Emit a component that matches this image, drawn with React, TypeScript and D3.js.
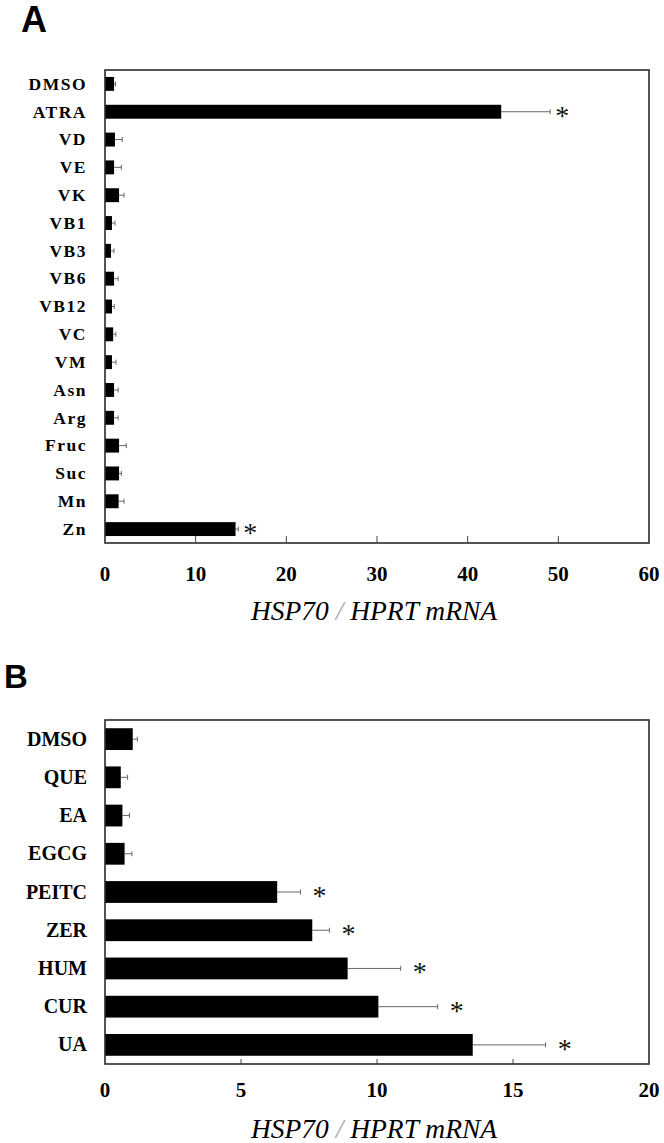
import React from "react";
import * as d3 from "d3";

// panel A: vitamins, amino acids, sugars, metals
const catsA = ["DMSO", "ATRA", "VD", "VE", "VK", "VB1", "VB3", "VB6", "VB12", "VC", "VM", "Asn", "Arg", "Fruc", "Suc", "Mn", "Zn"];
const valsA = [1.0, 43.7, 1.1, 1.0, 1.55, 0.77, 0.66, 1.0, 0.77, 0.9, 0.77, 1.0, 1.0, 1.55, 1.55, 1.5, 14.4];
const errsA = [0.15, 5.4, 0.8, 0.8, 0.55, 0.33, 0.33, 0.45, 0.25, 0.3, 0.45, 0.45, 0.45, 0.8, 0.25, 0.6, 0.3];
const sigA = ["ATRA", "Zn"];
const ticksA = [0, 10, 20, 30, 40, 50, 60];

// panel B: phytochemicals
const catsB = ["DMSO", "QUE", "EA", "EGCG", "PEITC", "ZER", "HUM", "CUR", "UA"];
const valsB = [1.02, 0.58, 0.64, 0.72, 6.33, 7.62, 8.92, 10.05, 13.52];
const errsB = [0.17, 0.25, 0.26, 0.27, 0.86, 0.63, 1.95, 2.18, 2.68];
const sigB = ["PEITC", "ZER", "HUM", "CUR", "UA"];
const ticksB = [0, 5, 10, 15, 20];

const serif = "'Liberation Serif', 'Times New Roman', serif";
const sans = "'Liberation Sans', Arial, sans-serif";

function Panel(props) {
  const { cats, vals, errs, sig, ticks, top, bottom, left, right, pad, labelSize, spacing, starGap, titleY, tickY, tickLen } = props;

  const x = d3.scaleLinear().domain([0, ticks[ticks.length - 1]]).range([left, right]);
  const y = d3.scaleBand().domain(cats).range([top, bottom]).paddingInner(pad).paddingOuter(pad / 2);
  const bw = y.bandwidth();

  const bars = cats.map((c, i) => {
    const cy = y(c) + bw / 2;
    const xe = x(vals[i] + errs[i]);
    return (
      <g key={c}>
        <text x={87} y={cy + 0.33 * labelSize} textAnchor="end" fontFamily={serif} fontWeight="bold"
          fontSize={labelSize} letterSpacing={spacing}>{c}</text>
        <line x1={x(vals[i])} x2={xe} y1={cy} y2={cy} stroke="#666" strokeWidth={1} />
        <line x1={xe} x2={xe} y1={cy - 2.5} y2={cy + 2.5} stroke="#666" strokeWidth={1} />
        <rect x={x(0)} y={y(c)} width={x(vals[i]) - x(0)} height={bw} fill="#000" />
        {sig.includes(c) &&
          <text x={xe + starGap} y={cy + 13} textAnchor="middle" fontFamily={serif} fontSize={28} fill="#111">*</text>}
      </g>
    );
  });

  const tickMarks = ticks.map(t => (
    <g key={t}>
      {t > 0 && t < ticks[ticks.length - 1] &&
        <line x1={x(t)} x2={x(t)} y1={bottom} y2={bottom - tickLen} stroke="#444" strokeWidth={1} />}
      <text x={x(t)} y={tickY} textAnchor="middle" fontFamily={serif} fontWeight="bold" fontSize={21}>{t}</text>
    </g>
  ));

  return (
    <g>
      {bars}
      <rect x={left} y={top} width={right - left} height={bottom - top} fill="none" stroke="#2a2a2a" strokeWidth={1.6} />
      {tickMarks}
      <text x={(left + right) / 2 - 3} y={titleY} textAnchor="middle" fontFamily={serif} fontStyle="italic" fontSize={27.5}>
        HSP70 <tspan fill="#aaa">/</tspan> HPRT mRNA
      </text>
    </g>
  );
}

export default function App() {
  return (
    <svg width={664} height={1143} style={{ position: "absolute", left: 0, top: 0, background: "#fff" }}>
      <rect width={664} height={1143} fill="#fff" />
      <text x={21} y={32} fontFamily={sans} fontWeight="bold" fontSize={36}>A</text>
      <Panel cats={catsA} vals={valsA} errs={errsA} sig={sigA} ticks={ticksA}
        top={70} bottom={543} left={105} right={649} pad={0.5} labelSize={17.5} spacing={1.5}
        starGap={12} titleY={620} tickY={581} tickLen={7} />
      <text x={4} y={688} fontFamily={sans} fontWeight="bold" fontSize={33}>B</text>
      <Panel cats={catsB} vals={valsB} errs={errsB} sig={sigB} ticks={ticksB}
        top={720} bottom={1064} left={105} right={649} pad={0.43} labelSize={20} spacing={0}
        starGap={19} titleY={1138} tickY={1097} tickLen={5} />
    </svg>
  );
}
